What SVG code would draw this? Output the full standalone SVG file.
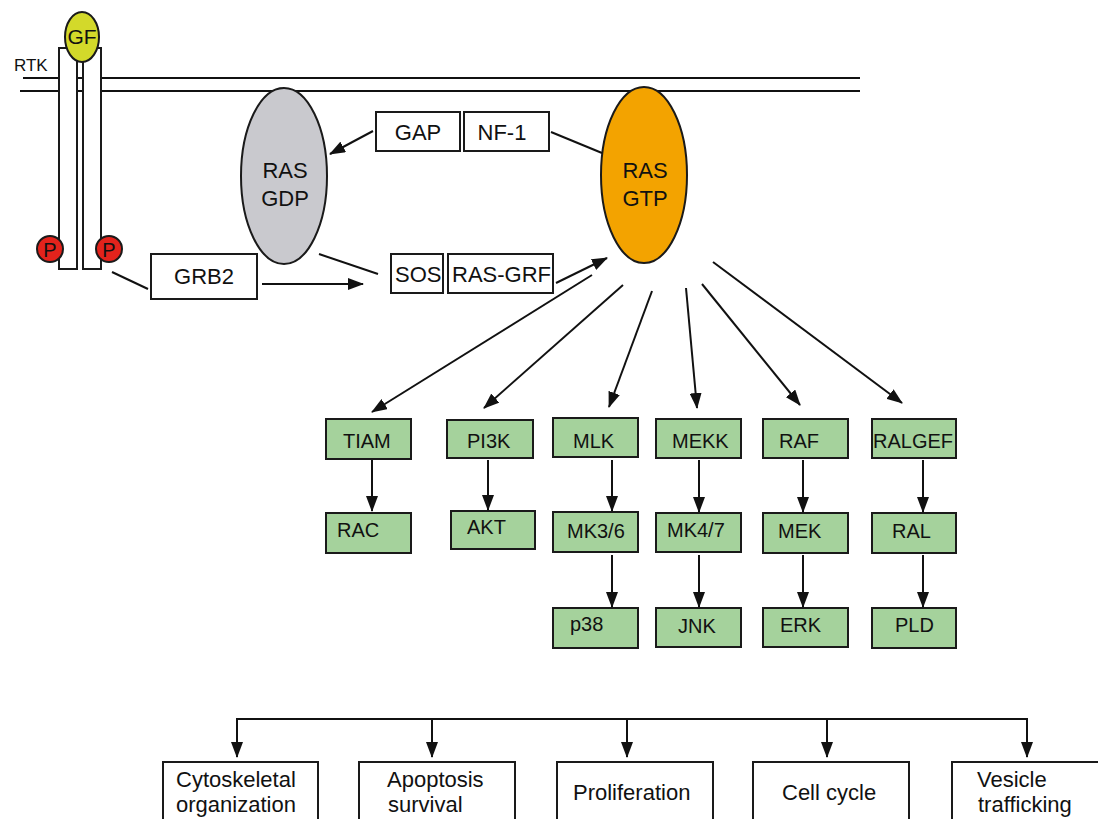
<svg xmlns="http://www.w3.org/2000/svg" width="1098" height="819" viewBox="0 0 1098 819">
<style>
text{font-family:"Liberation Sans",Arial,sans-serif;fill:#111}
.box{fill:#fff;stroke:#1a1a1a;stroke-width:2}
.g{fill:#a5d29c;stroke:#1a1a1a;stroke-width:2}
.ln{stroke:#111;stroke-width:2;fill:none}
.t22{font-size:22px}
.t20{font-size:20px}
.mid{text-anchor:middle}
</style>
<defs>
<marker id="ah" markerUnits="userSpaceOnUse" markerWidth="16" markerHeight="12" viewBox="0 0 16 12" refX="15" refY="6" orient="auto">
<path d="M0,0 L16,6 L0,12 z" fill="#111"/>
</marker>
</defs>
<g id="membrane">
<line class="ln" x1="23" y1="78" x2="860" y2="78"/>
<line class="ln" x1="20" y1="91" x2="860" y2="91"/>
</g>
<g id="rtk">
<rect class="box" x="59" y="48" width="18" height="221"/>
<rect class="box" x="83" y="48" width="18" height="221"/>
<text x="14" y="71" style="font-size:17px">RTK</text>
</g>
<g id="gf">
<ellipse cx="82" cy="37" rx="17" ry="25" fill="#d3d92a" stroke="#1a1a1a" stroke-width="2"/>
<text class="mid" x="82" y="44" style="font-size:21px">GF</text>
</g>
<g id="p1">
<circle cx="50" cy="249" r="13" fill="#e3231c" stroke="#1a1a1a" stroke-width="2"/>
<text class="mid" x="50" y="257" style="font-size:20px">P</text>
</g>
<g id="p2">
<circle cx="109" cy="249" r="13" fill="#e3231c" stroke="#1a1a1a" stroke-width="2"/>
<text class="mid" x="109" y="257" style="font-size:20px">P</text>
</g>
<g id="rasgdp">
<ellipse cx="284" cy="176" rx="43" ry="88" fill="#c9c9ce" stroke="#1a1a1a" stroke-width="2"/>
<text class="t22 mid" x="285" y="178">RAS</text>
<text class="t22 mid" x="285" y="206">GDP</text>
</g>
<g id="rasgtp">
<ellipse cx="644" cy="175" rx="43" ry="88" fill="#f3a300" stroke="#1a1a1a" stroke-width="2"/>
<text class="t22 mid" x="645" y="178">RAS</text>
<text class="t22 mid" x="645" y="206">GTP</text>
</g>
<g id="gap">
<rect class="box" x="376" y="112" width="84" height="39"/>
<text class="t22 mid" x="418" y="140">GAP</text>
</g>
<g id="nf1">
<rect class="box" x="464" y="112" width="85" height="39"/>
<text class="t22 mid" x="502" y="140">NF-1</text>
</g>
<g id="grb2">
<rect class="box" x="151" y="254" width="106" height="45"/>
<text class="t22 mid" x="204" y="284">GRB2</text>
</g>
<g id="sos">
<rect class="box" x="391" y="254" width="52" height="39"/>
<text class="t22" x="395" y="282">SOS</text>
</g>
<g id="rasgrf">
<rect class="box" x="448" y="254" width="105" height="39"/>
<text class="t22" x="452" y="282">RAS-GRF</text>
</g>
<g id="tiam"><rect class="g" x="326" y="419" width="85" height="40"/><text class="t20" x="343" y="448">TIAM</text></g>
<g id="rac"><rect class="g" x="326" y="513" width="85" height="40"/><text class="t20" x="337" y="537">RAC</text></g>
<g id="pi3k"><rect class="g" x="447" y="420" width="86" height="38"/><text class="t20" x="467" y="448">PI3K</text></g>
<g id="akt"><rect class="g" x="451" y="511" width="84" height="38"/><text class="t20" x="467" y="534">AKT</text></g>
<g id="mlk"><rect class="g" x="553" y="418" width="85" height="39"/><text class="t20" x="573" y="448">MLK</text></g>
<g id="mk36"><rect class="g" x="553" y="512" width="85" height="40"/><text class="t20" x="567" y="538">MK3/6</text></g>
<g id="p38"><rect class="g" x="553" y="608" width="85" height="40"/><text class="t20" x="570" y="631">p38</text></g>
<g id="mekk"><rect class="g" x="656" y="419" width="85" height="39"/><text class="t20" x="672" y="448">MEKK</text></g>
<g id="mk47"><rect class="g" x="656" y="513" width="85" height="39"/><text class="t20" x="667" y="537">MK4/7</text></g>
<g id="jnk"><rect class="g" x="656" y="608" width="85" height="39"/><text class="t20" x="678" y="633">JNK</text></g>
<g id="raf"><rect class="g" x="763" y="419" width="85" height="39"/><text class="t20" x="779" y="448">RAF</text></g>
<g id="mek"><rect class="g" x="763" y="513" width="85" height="40"/><text class="t20" x="778" y="538">MEK</text></g>
<g id="erk"><rect class="g" x="763" y="608" width="85" height="39"/><text class="t20" x="780" y="632">ERK</text></g>
<g id="ralgef"><rect class="g" x="872" y="419" width="84" height="39"/><text class="t20" x="873" y="448">RALGEF</text></g>
<g id="ral"><rect class="g" x="872" y="513" width="84" height="40"/><text class="t20" x="892" y="538">RAL</text></g>
<g id="pld"><rect class="g" x="872" y="608" width="84" height="40"/><text class="t20" x="895" y="632">PLD</text></g>
<g id="cyto"><rect class="box" x="163" y="762" width="155" height="80"/><text class="t22" x="176" y="787">Cytoskeletal</text><text class="t22" x="176" y="812">organization</text></g>
<g id="apop"><rect class="box" x="359" y="762" width="156" height="80"/><text class="t22" x="387" y="787">Apoptosis</text><text class="t22" x="388" y="812">survival</text></g>
<g id="prolif"><rect class="box" x="557" y="762" width="156" height="80"/><text class="t22" x="573" y="800">Proliferation</text></g>
<g id="cellcycle"><rect class="box" x="753" y="762" width="156" height="80"/><text class="t22" x="782" y="800">Cell cycle</text></g>
<g id="vesicle"><rect class="box" x="952" y="762" width="156" height="80"/><text class="t22" x="977" y="787">Vesicle</text><text class="t22" x="978" y="812">trafficking</text></g>
<g id="connectors">
<line class="ln" x1="373" y1="131" x2="330" y2="154" marker-end="url(#ah)"/>
<line class="ln" x1="551" y1="132" x2="602" y2="153"/>
<line class="ln" x1="319" y1="254" x2="378" y2="274"/>
<line class="ln" x1="112" y1="272" x2="148" y2="289"/>
<line class="ln" x1="262" y1="284" x2="363" y2="284" marker-end="url(#ah)"/>
<line class="ln" x1="556" y1="283" x2="607" y2="258" marker-end="url(#ah)"/>
<line class="ln" x1="592" y1="275" x2="372" y2="412" marker-end="url(#ah)"/>
<line class="ln" x1="623" y1="285" x2="484" y2="408" marker-end="url(#ah)"/>
<line class="ln" x1="652" y1="291" x2="609" y2="407" marker-end="url(#ah)"/>
<line class="ln" x1="686" y1="288" x2="697" y2="408" marker-end="url(#ah)"/>
<line class="ln" x1="702" y1="284" x2="800" y2="405" marker-end="url(#ah)"/>
<line class="ln" x1="713" y1="262" x2="902" y2="403" marker-end="url(#ah)"/>
<line class="ln" x1="372" y1="460" x2="372" y2="511" marker-end="url(#ah)"/>
<line class="ln" x1="488" y1="460" x2="488" y2="510" marker-end="url(#ah)"/>
<line class="ln" x1="612" y1="460" x2="612" y2="511" marker-end="url(#ah)"/>
<line class="ln" x1="612" y1="555" x2="612" y2="607" marker-end="url(#ah)"/>
<line class="ln" x1="699" y1="460" x2="699" y2="512" marker-end="url(#ah)"/>
<line class="ln" x1="699" y1="555" x2="699" y2="607" marker-end="url(#ah)"/>
<line class="ln" x1="803" y1="460" x2="803" y2="512" marker-end="url(#ah)"/>
<line class="ln" x1="803" y1="555" x2="803" y2="607" marker-end="url(#ah)"/>
<line class="ln" x1="923" y1="460" x2="923" y2="512" marker-end="url(#ah)"/>
<line class="ln" x1="923" y1="555" x2="923" y2="607" marker-end="url(#ah)"/>
<line class="ln" x1="236" y1="719" x2="1028" y2="719"/>
<line class="ln" x1="237" y1="718" x2="237" y2="757" marker-end="url(#ah)"/>
<line class="ln" x1="432" y1="718" x2="432" y2="757" marker-end="url(#ah)"/>
<line class="ln" x1="627" y1="718" x2="627" y2="757" marker-end="url(#ah)"/>
<line class="ln" x1="827" y1="718" x2="827" y2="757" marker-end="url(#ah)"/>
<line class="ln" x1="1027" y1="718" x2="1027" y2="757" marker-end="url(#ah)"/>
</g>
</svg>
